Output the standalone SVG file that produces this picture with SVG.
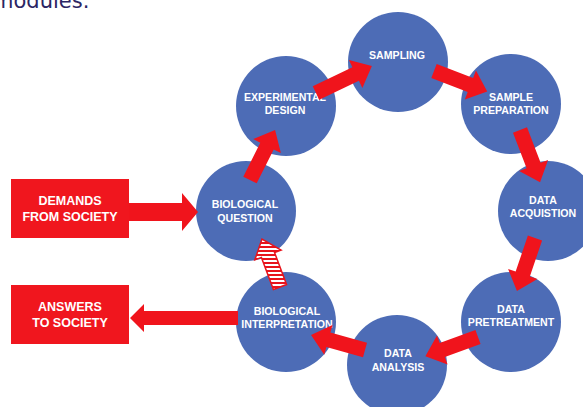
<svg xmlns="http://www.w3.org/2000/svg" width="583" height="407" viewBox="0 0 583 407">
<defs>
<style>
.node circle{fill:#4d6cb6;}
.lbl{font-family:"Liberation Sans",Arial,sans-serif;font-weight:bold;font-size:10.6px;fill:#ffffff;text-anchor:middle;}
.blbl{font-family:"Liberation Sans",Arial,sans-serif;font-weight:bold;font-size:12.5px;fill:#ffffff;text-anchor:middle;}
.box rect{fill:#f0161e;}
.arr{fill:#f0141c;}
</style>
<pattern id="stripes" patternUnits="userSpaceOnUse" x="0" y="0" width="10" height="4">
<rect x="0" y="0" width="10" height="4" fill="#ffffff"/>
<rect x="0" y="2" width="10" height="2" fill="#e8141c"/>
</pattern>
</defs>
<rect x="0" y="0" width="583" height="407" fill="#ffffff"/>
<text x="-7" y="8" font-family="DejaVu Sans,Verdana,sans-serif" font-size="21" fill="#2b2563">modules.</text>

<g id="n-sampling" class="node"><circle cx="398" cy="62" r="50"/><text class="lbl" x="397" y="59">SAMPLING</text></g>
<g id="n-sampleprep" class="node"><circle cx="511" cy="104" r="50"/><text class="lbl" x="511" y="101">SAMPLE</text><text class="lbl" x="511" y="114">PREPARATION</text></g>
<g id="n-acq" class="node"><circle cx="548" cy="211" r="50"/><text class="lbl" x="543" y="204">DATA</text><text class="lbl" x="543" y="217">ACQUISTION</text></g>
<g id="n-pretreat" class="node"><circle cx="511" cy="322" r="50"/><text class="lbl" x="511" y="313">DATA</text><text class="lbl" x="511" y="326">PRETREATMENT</text></g>
<g id="n-analysis" class="node"><circle cx="397" cy="365" r="50"/><text class="lbl" x="398" y="357">DATA</text><text class="lbl" x="398" y="371">ANALYSIS</text></g>
<g id="n-interp" class="node"><circle cx="286" cy="322" r="50"/><text class="lbl" x="287" y="315">BIOLOGICAL</text><text class="lbl" x="287" y="328">INTERPRETATION</text></g>
<g id="n-question" class="node"><circle cx="246" cy="211" r="50"/><text class="lbl" x="245" y="208">BIOLOGICAL</text><text class="lbl" x="245" y="222">QUESTION</text></g>
<g id="n-design" class="node"><circle cx="286" cy="106" r="50"/><text class="lbl" x="285" y="101">EXPERIMENTAL</text><text class="lbl" x="285" y="114">DESIGN</text></g>

<g id="n-demands" class="box"><rect x="11" y="179" width="118" height="59"/><text class="blbl" x="70" y="205">DEMANDS</text><text class="blbl" x="70" y="221">FROM SOCIETY</text></g>
<g id="n-answers" class="box"><rect x="11" y="285" width="118" height="59"/><text class="blbl" x="70" y="311">ANSWERS</text><text class="blbl" x="70" y="327">TO SOCIETY</text></g>

<g id="connectors">
<path class="arr" transform="translate(250,180) rotate(-63.4)" d="M0,-7.5 L38,-7.5 L38,-15.5 L56,0 L38,15.5 L38,7.5 L0,7.5Z"/>
<path class="arr" transform="translate(316,93) rotate(-25.7)" d="M0,-7.5 L44,-7.5 L44,-15.5 L62,0 L44,15.5 L44,7.5 L0,7.5Z"/>
<path class="arr" transform="translate(434,71) rotate(21)" d="M0,-7.5 L39,-7.5 L39,-15.5 L57,0 L39,15.5 L39,7.5 L0,7.5Z"/>
<path class="arr" transform="translate(520,130) rotate(69)" d="M0,-7.5 L38,-7.5 L38,-15.5 L56,0 L38,15.5 L38,7.5 L0,7.5Z"/>
<path class="arr" transform="translate(535,238) rotate(108.8)" d="M0,-7.5 L38,-7.5 L38,-15.5 L56,0 L38,15.5 L38,7.5 L0,7.5Z"/>
<path class="arr" transform="translate(478,337) rotate(160)" d="M0,-7.5 L38,-7.5 L38,-15.5 L56,0 L38,15.5 L38,7.5 L0,7.5Z"/>
<path class="arr" transform="translate(365,350) rotate(195.5)" d="M0,-7.5 L38,-7.5 L38,-15.5 L56,0 L38,15.5 L38,7.5 L0,7.5Z"/>
<polygon points="286.55,284.54 274.52,252.46 281.08,250.0 262,239 254.86,259.84 261.42,257.38 273.45,289.46" fill="url(#stripes)" stroke="#e8141c" stroke-width="1.5" stroke-linejoin="miter"/>
<path class="arr" d="M129,203 L182,203 L182,193 L198,212 L182,231 L182,221 L129,221Z"/>
<path class="arr" d="M238,311 L144,311 L144,304 L130,318 L144,332 L144,325 L238,325Z"/>
</g>
</svg>
